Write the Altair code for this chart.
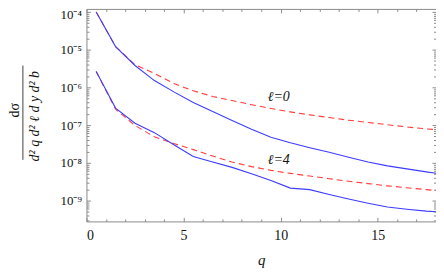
import altair as alt
import pandas as pd

# ---- data (log10 of dσ/..., at q = 0.5, 1.5, ..., 18.5) ----
q_vals = [0.5, 1.5, 2.5, 3.5, 4.5, 5.5, 6.5, 7.5, 8.5, 9.5,
          10.5, 11.5, 12.5, 13.5, 14.5, 15.5, 16.5, 17.5, 18.5]

l0_full_log10 = [-4.00, -4.92, -5.42, -5.82, -6.12, -6.40, -6.64, -6.88, -7.11, -7.32,
                 -7.47, -7.60, -7.72, -7.85, -7.98, -8.08, -8.16, -8.24, -8.31]
l0_approx_log10 = [-4.00, -4.92, -5.40, -5.63, -5.90, -6.09, -6.24, -6.35, -6.46, -6.56,
                   -6.65, -6.73, -6.80, -6.87, -6.93, -6.99, -7.05, -7.10, -7.14]
l4_full_log10 = [-5.58, -6.55, -6.95, -7.20, -7.52, -7.83, -7.98, -8.12, -8.29, -8.47,
                 -8.67, -8.71, -8.84, -8.96, -9.07, -9.17, -9.23, -9.28, -9.31]
l4_approx_log10 = [-5.58, -6.58, -7.01, -7.31, -7.49, -7.65, -7.82, -7.98, -8.10, -8.20,
                   -8.28, -8.35, -8.42, -8.49, -8.55, -8.61, -8.66, -8.71, -8.76]

curve_names = ["l0_full", "l0_approx", "l4_full", "l4_approx"]
curve_kinds = ["full", "approx", "full", "approx"]
curve_logs = [l0_full_log10, l0_approx_log10, l4_full_log10, l4_approx_log10]

label_texts = ["ℓ=0", "ℓ=4"]
label_q = [9.9, 9.9]
label_v = [5.6e-7, 1.2e-8]

x_domain = [0, 18]
y_domain = [2.8e-10, 1.2e-4]

x_major = [0, 5, 10, 15]
x_minor = [1, 2, 3, 4, 6, 7, 8, 9, 11, 12, 13, 14, 16, 17]
y_exps = [-4, -5, -6, -7, -8, -9]
y_labels = ["10⁻⁴", "10⁻⁵", "10⁻⁶", "10⁻⁷", "10⁻⁸", "10⁻⁹"]
y_major = [1e-4, 1e-5, 1e-6, 1e-7, 1e-8, 1e-9]
y_minor = [m * 10.0 ** e for e in [-10, -9, -8, -7, -6, -5, -4] for m in range(2, 10)
           if y_domain[0] <= m * 10.0 ** e <= y_domain[1]]

rows = []
for name, kind, logs in zip(curve_names, curve_kinds, curve_logs):
    for qq, lv in zip(q_vals, logs):
        rows.append({"q": qq, "v": 10.0 ** lv, "curve": name, "kind": kind})
df = pd.DataFrame(rows)
lab_df = pd.DataFrame({"q": label_q, "v": label_v, "t": label_texts})

W, H = 352, 214
SERIF = "Liberation Serif"
FRAME = "#8a8a8a"

xs = alt.Scale(domain=x_domain, nice=False, zero=False)
ys = alt.Scale(type="log", domain=y_domain, nice=False)

label_expr = ""
for e, lab in zip(y_exps, y_labels):
    label_expr += f"round(log(datum.value)/LN10) == {e} ? '{lab}' : "
label_expr += "''"

base = alt.Chart(df)

red = base.transform_filter(alt.datum.kind == "approx").mark_line(
    color="#ff3c3c", strokeWidth=1.1, strokeDash=[6, 4], clip=True
).encode(
    x=alt.X("q:Q", scale=xs, axis=None),
    y=alt.Y("v:Q", scale=ys, axis=None),
    detail="curve:N",
)
blue = base.transform_filter(alt.datum.kind == "full").mark_line(
    color="#3c3cff", strokeWidth=1.1, clip=True
).encode(
    x=alt.X("q:Q", scale=xs, axis=None),
    y=alt.Y("v:Q", scale=ys, axis=None),
    detail="curve:N",
)

labels = alt.Chart(lab_df).mark_text(
    font=SERIF, fontSize=14, fontStyle="italic", color="#111", align="center", baseline="middle"
).encode(
    x=alt.X("q:Q", scale=xs, axis=None),
    y=alt.Y("v:Q", scale=ys, axis=None),
    text="t:N",
)


def axis_layer(xaxis, yaxis):
    return base.mark_point(opacity=0).encode(
        x=alt.X("q:Q", scale=xs, axis=xaxis),
        y=alt.Y("v:Q", scale=ys, axis=yaxis),
    )


lab_axes = axis_layer(
    alt.Axis(orient="bottom", values=x_major, ticks=False, tickSize=0, domain=False, grid=False,
             labelFont=SERIF, labelFontSize=14, labelColor="#111", labelPadding=7,
             title="q", titleFont=SERIF, titleFontStyle="italic", titleFontWeight="normal",
             titleFontSize=15, titleColor="#111", titlePadding=10),
    alt.Axis(orient="left", values=y_major, ticks=False, tickSize=0, domain=False, grid=False,
             labelFont=SERIF, labelFontSize=13, labelColor="#111", labelPadding=5,
             labelOffset={"condition": {"test": "datum.value > 5e-5", "value": 3}, "value": 0},
             labelExpr=label_expr, title=None),
)


def tick_axes(xo, yo, xv, yv, size):
    return axis_layer(
        alt.Axis(orient=xo, offset=-H, values=xv, tickSize=size, tickColor=FRAME,
                 labels=False, domain=False, grid=False, title=None),
        alt.Axis(orient=yo, offset=-W, values=yv, tickSize=size, tickColor=FRAME,
                 labels=False, domain=False, grid=False, title=None),
    )


t1 = tick_axes("top", "right", x_major, y_major, 4)
t2 = tick_axes("top", "right", x_minor, y_minor, 2.5)
t3 = tick_axes("bottom", "left", x_major, y_major, 4)
t4 = tick_axes("bottom", "left", x_minor, y_minor, 2.5)

num = alt.Chart(pd.DataFrame({"t": ["dσ"]})).mark_text(
    font=SERIF, fontSize=14, angle=270, align="center", baseline="middle", color="#111"
).encode(x=alt.value(-72), y=alt.value(102), text="t:N")
den = alt.Chart(pd.DataFrame({"t": ["d² q d² ℓ d y d² b"]})).mark_text(
    font=SERIF, fontSize=14, fontStyle="italic", angle=270, align="center", baseline="middle",
    color="#111"
).encode(x=alt.value(-52), y=alt.value(108), text="t:N")
bar = alt.Chart(pd.DataFrame({"t": [0]})).mark_rule(color="#111", strokeWidth=0.8).encode(
    x=alt.value(-64), y=alt.value(57), y2=alt.value(152)
)

chart = alt.layer(
    lab_axes, t1, t2, t3, t4, red, blue, labels, num, den, bar
).resolve_axis(x="independent", y="independent").properties(
    width=W, height=H,
    autosize=alt.AutoSizeParams(type="none"),
    padding={"left": 79, "top": 0, "right": 0, "bottom": 48},
).configure_view(stroke=FRAME, strokeWidth=1)

chart.save("out.html", embed_options={"renderer": "svg", "actions": False})
